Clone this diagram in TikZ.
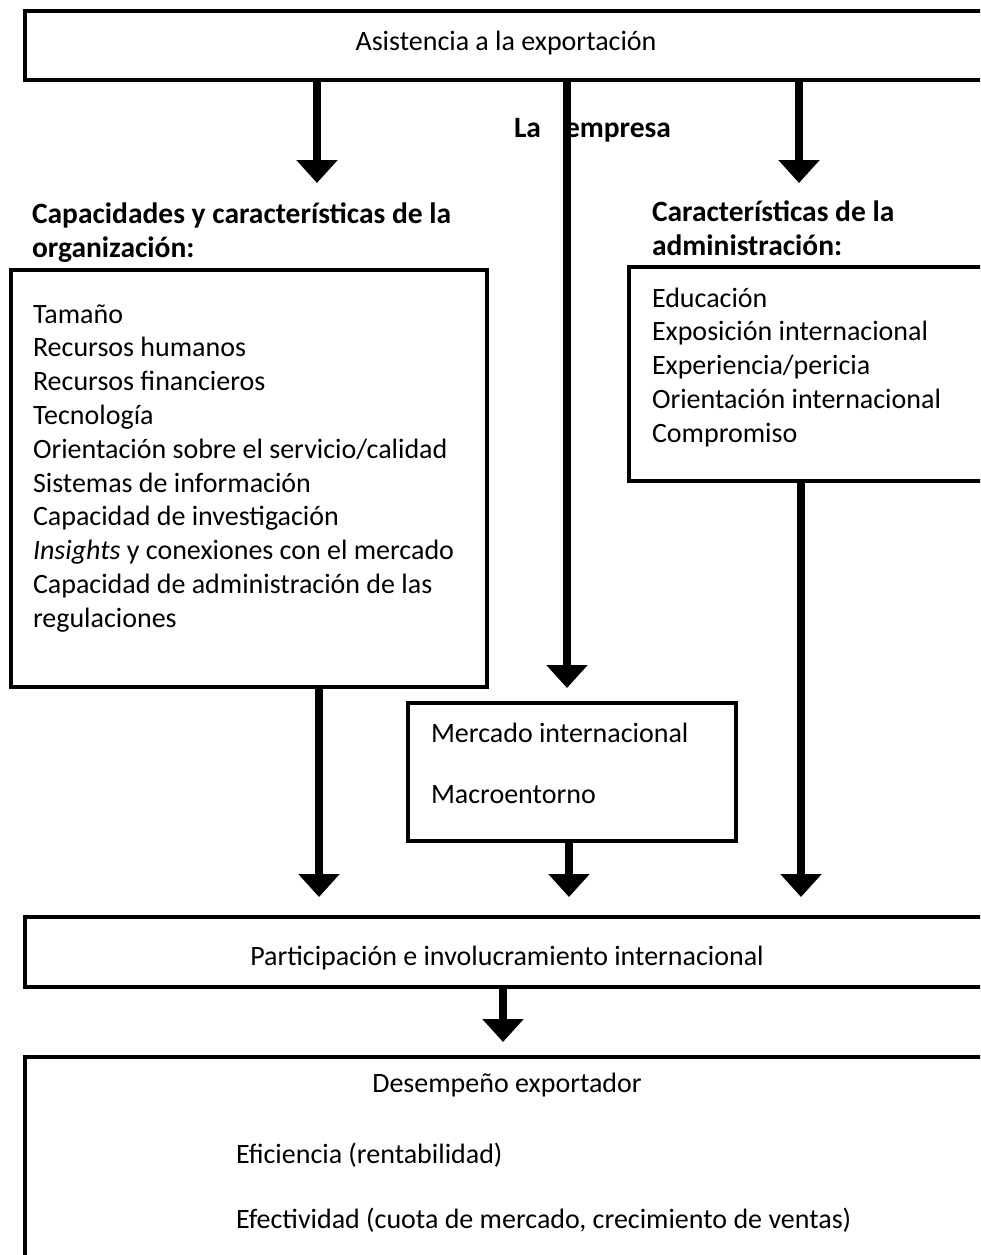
\documentclass[tikz,border=0pt]{standalone}
\usepackage{fontspec}
\setmainfont{Carlito}
\usetikzlibrary{arrows.meta}
% stacked lines, baseline of the block = baseline of its first line
\newcommand\rowsof[1]{\begin{tabular}[t]{@{}l@{}}#1\end{tabular}}
\begin{document}
\begin{tikzpicture}[x=1pt,y=-1pt,
  frame/.style={draw, line width=4.6pt, rectangle, outer sep=0pt, inner sep=0pt, anchor=north west},
  txt/.style={inner sep=0pt, outer sep=0pt, font=\fontsize{28}{33.8}\selectfont},
  head/.style={inner sep=0pt, outer sep=0pt, font=\fontsize{29.5}{34}\selectfont\bfseries},
  flow/.style={line width=8.5pt, -{Triangle[width=40pt,length=23pt]}},
  ]
\useasboundingbox (0,0) rectangle (980,1255);
\clip (0,0) rectangle (980,1255);

% ---- boxes ----
\node[frame, minimum width=963pt, minimum height=69pt]  (assist) at (25,11) {};
\node[frame, minimum width=476pt, minimum height=417pt] (org)    at (11,270) {};
\node[frame, minimum width=361pt, minimum height=214pt] (admin)  at (629,267) {};
\node[frame, minimum width=328pt, minimum height=138pt] (merc)   at (408,703) {};
\node[frame, minimum width=963pt, minimum height=70pt]  (part)   at (25,917) {};
\node[frame, minimum width=963pt, minimum height=213pt] (perf)   at (25,1057) {};

% ---- texts ----
\node[txt, anchor=base] (assisttxt) at (506,51) {Asistencia a la exportación};
\node[head, anchor=base west] (empresa) at (514,137) {\makebox[51pt][l]{La}empresa};
\node[head, anchor=base west] (orghead) at (32,223)
  {\rowsof{Capacidades y características de la\\organización:}};
\node[head, anchor=base west] (adminhead) at (652,221)
  {\rowsof{Características de la\\administración:}};
\node[txt, anchor=base west] (orglist) at (33,323)
  {\rowsof{Tamaño\\Recursos humanos\\Recursos financieros\\Tecnología\\
   Orientación sobre el servicio/calidad\\Sistemas de información\\
   Capacidad de investigación\\\textit{Insights} y conexiones con el mercado\\
   Capacidad de administración de las\\regulaciones}};
\node[txt, anchor=base west] (adminlist) at (652,307)
  {\rowsof{Educación\\Exposición internacional\\Experiencia/pericia\\
   Orientación internacional\\Compromiso}};
\node[txt, anchor=base west] (merctxt) at (431,742)
  {\rowsof{Mercado internacional\\[27.2pt]Macroentorno}};
\node[txt, anchor=base] (parttxt) at (507,965) {Participación e involucramiento internacional};
\node[txt, anchor=base] (perftxt) at (507,1092) {Desempeño exportador};
\node[txt, anchor=base west] (efic) at (236,1163) {Eficiencia (rentabilidad)};
\node[txt, anchor=base west] (efec) at (236,1228) {Efectividad (cuota de mercado, crecimiento de ventas)};

% ---- arrow tips ----
\coordinate (tipOrg)   at (317,183);
\coordinate (tipAdm)   at (799,183);
\coordinate (tipMerc)  at (567,688);
\coordinate (tipP1)    at (319,897);
\coordinate (tipP2)    at (569,897);
\coordinate (tipP3)    at (801,897);
\coordinate (tipPerf)  at (503,1042);

% ---- connectors ----
\draw[flow] (assist.south -| tipOrg)  -- (tipOrg);
\draw[flow] (assist.south -| tipAdm)  -- (tipAdm);
\draw[flow] (assist.south -| tipMerc) -- (tipMerc);
\draw[flow] (org.south -| tipP1)      -- (tipP1);
\draw[flow] (merc.south -| tipP2)     -- (tipP2);
\draw[flow] (admin.south -| tipP3)    -- (tipP3);
\draw[flow] (part.south -| tipPerf)   -- (tipPerf);
\end{tikzpicture}
\end{document}
